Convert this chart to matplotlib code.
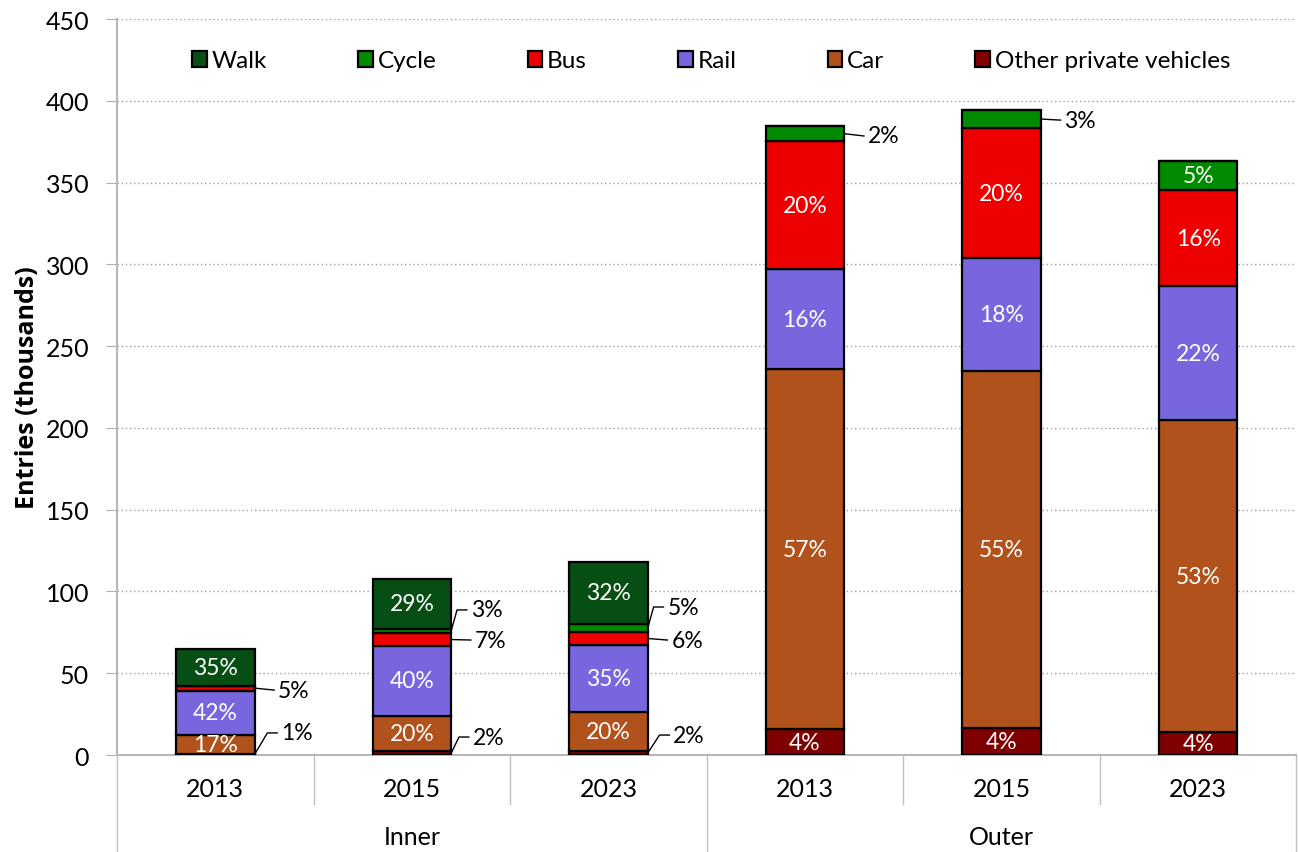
import matplotlib.pyplot as plt
import numpy as np

plt.rcParams['font.family'] = ['Lato', 'DejaVu Sans']

years = ['2013', '2015', '2023', '2013', '2015', '2023']
groups = ['Inner', 'Outer']
modes = ['Other private vehicles', 'Car', 'Rail', 'Bus', 'Cycle', 'Walk']
colors = ['#7e0000', '#b1511b', '#7866de', '#ee0000', '#008a00', '#064e14']

# values in thousands
other = [0.6, 2.2, 2.4, 15.9, 16.5, 14.1]
car = [11.5, 21.9, 23.9, 220.0, 218.3, 190.7]
rail = [27.3, 42.6, 41.0, 61.0, 69.1, 81.9]
bus = [3.0, 7.8, 7.9, 78.4, 79.4, 58.7]
cycle = [0.0, 2.8, 4.9, 9.2, 11.1, 17.8]
walk = [22.4, 30.3, 38.0, 0.0, 0.0, 0.0]

# share labels shown on the chart
pct_other = ['1%', '2%', '2%', '4%', '4%', '4%']
pct_car = ['17%', '20%', '20%', '57%', '55%', '53%']
pct_rail = ['42%', '40%', '35%', '16%', '18%', '22%']
pct_bus = ['5%', '7%', '6%', '20%', '20%', '16%']
pct_cycle = ['', '3%', '5%', '2%', '3%', '5%']
pct_walk = ['35%', '29%', '32%', '', '', '']

series = [other, car, rail, bus, cycle, walk]
labels = [pct_other, pct_car, pct_rail, pct_bus, pct_cycle, pct_walk]

# labels drawn outside with leader lines: (bar, series index, label y, elbow)
outside = [(0, 3, 39.7, 0.0), (0, 0, 13.5, 0.065),
           (1, 4, 88.7, 0.03), (1, 3, 70.3, 0.0), (1, 0, 11.0, 0.04),
           (2, 4, 90.5, 0.03), (2, 3, 70.3, 0.0), (2, 0, 12.2, 0.06),
           (3, 4, 378.5, 0.0), (4, 4, 388.2, 0.0)]

fig = plt.figure(figsize=(12.98, 8.53), dpi=100)
ax = fig.add_axes([0.0901, 0.1137, 0.9087, 0.8628])

x = np.arange(len(years))
width = 0.4
bottom = np.zeros(len(years))
bars = []
for vals, col, name in zip(series, colors, modes):
    ax.bar(x, vals, width, bottom=bottom, color=col, edgecolor='black',
           linewidth=1.6, label=name, zorder=3)
    bars.append(bottom.copy())
    bottom += np.array(vals)

out_keys = {(i, s) for i, s, _, _ in outside}
for s, (vals, labs) in enumerate(zip(series, labels)):
    for i in range(len(years)):
        if not labs[i] or (i, s) in out_keys:
            continue
        ax.text(x[i], bars[s][i] + vals[i] / 2, labs[i], ha='center', va='center',
                color='white', fontsize=16.5, zorder=4)

for i, s, ly, elbow in outside:
    edge = x[i] + width / 2
    y0 = bars[s][i] + series[s][i] / 2
    if elbow == 0:
        xs = [edge, edge + 0.1]
        ys = [y0, ly]
        tx = edge + 0.12
    else:
        xs = [edge, edge + elbow, edge + elbow + 0.05]
        ys = [y0, ly, ly]
        tx = edge + elbow + 0.07
    ax.plot(xs, ys, color='black', lw=1, zorder=4, clip_on=False)
    ax.text(tx, ly, labels[s][i], ha='left', va='center', fontsize=16.5, zorder=4)

ax.set_xlim(-0.5, 5.5)
ax.set_ylim(0, 450)
ax.set_yticks(np.arange(0, 451, 50))
ax.tick_params(axis='y', labelsize=18, length=8, color='#b0b0b0', pad=12)
ax.set_xticks([])
ax.yaxis.grid(True, linestyle=(0, (1, 2)), color='#a0a0a0', lw=1, zorder=0)
ax.set_axisbelow(True)
for side in ['top', 'right']:
    ax.spines[side].set_visible(False)
for side in ['left', 'bottom']:
    ax.spines[side].set_color('#b8b8b8')
    ax.spines[side].set_linewidth(1.5)
ax.set_ylabel('Entries (thousands)', fontsize=18, fontweight='bold',
              family=['Open Sans', 'DejaVu Sans'], labelpad=4)

# category axis below the plot
trans = ax.get_xaxis_transform()
for xi in [-0.5, 0.5, 1.5, 2.5, 3.5, 4.5, 5.5]:
    low = -0.132 if xi in (-0.5, 2.5, 5.5) else -0.0666
    ax.plot([xi, xi], [0, low], transform=trans, color='#c0c0c0', lw=1, clip_on=False)
for xi, yr in zip(x, years):
    ax.text(xi, -0.046, yr, transform=trans, ha='center', va='center', fontsize=18)
for gi, g in enumerate(groups):
    ax.text(1 + 3 * gi, -0.111, g, transform=trans, ha='center', va='center', fontsize=18)

handles, names = ax.get_legend_handles_labels()
order = [5, 4, 3, 2, 1, 0]
ax.legend([handles[k] for k in order], [names[k] for k in order], loc='center',
          bbox_to_anchor=(0.504, 0.943), ncol=6, frameon=False, fontsize=17.5,
          handlelength=0.6, handleheight=0.6, handletextpad=0.2, columnspacing=3.75)

fig.savefig('out.png', dpi=100)
